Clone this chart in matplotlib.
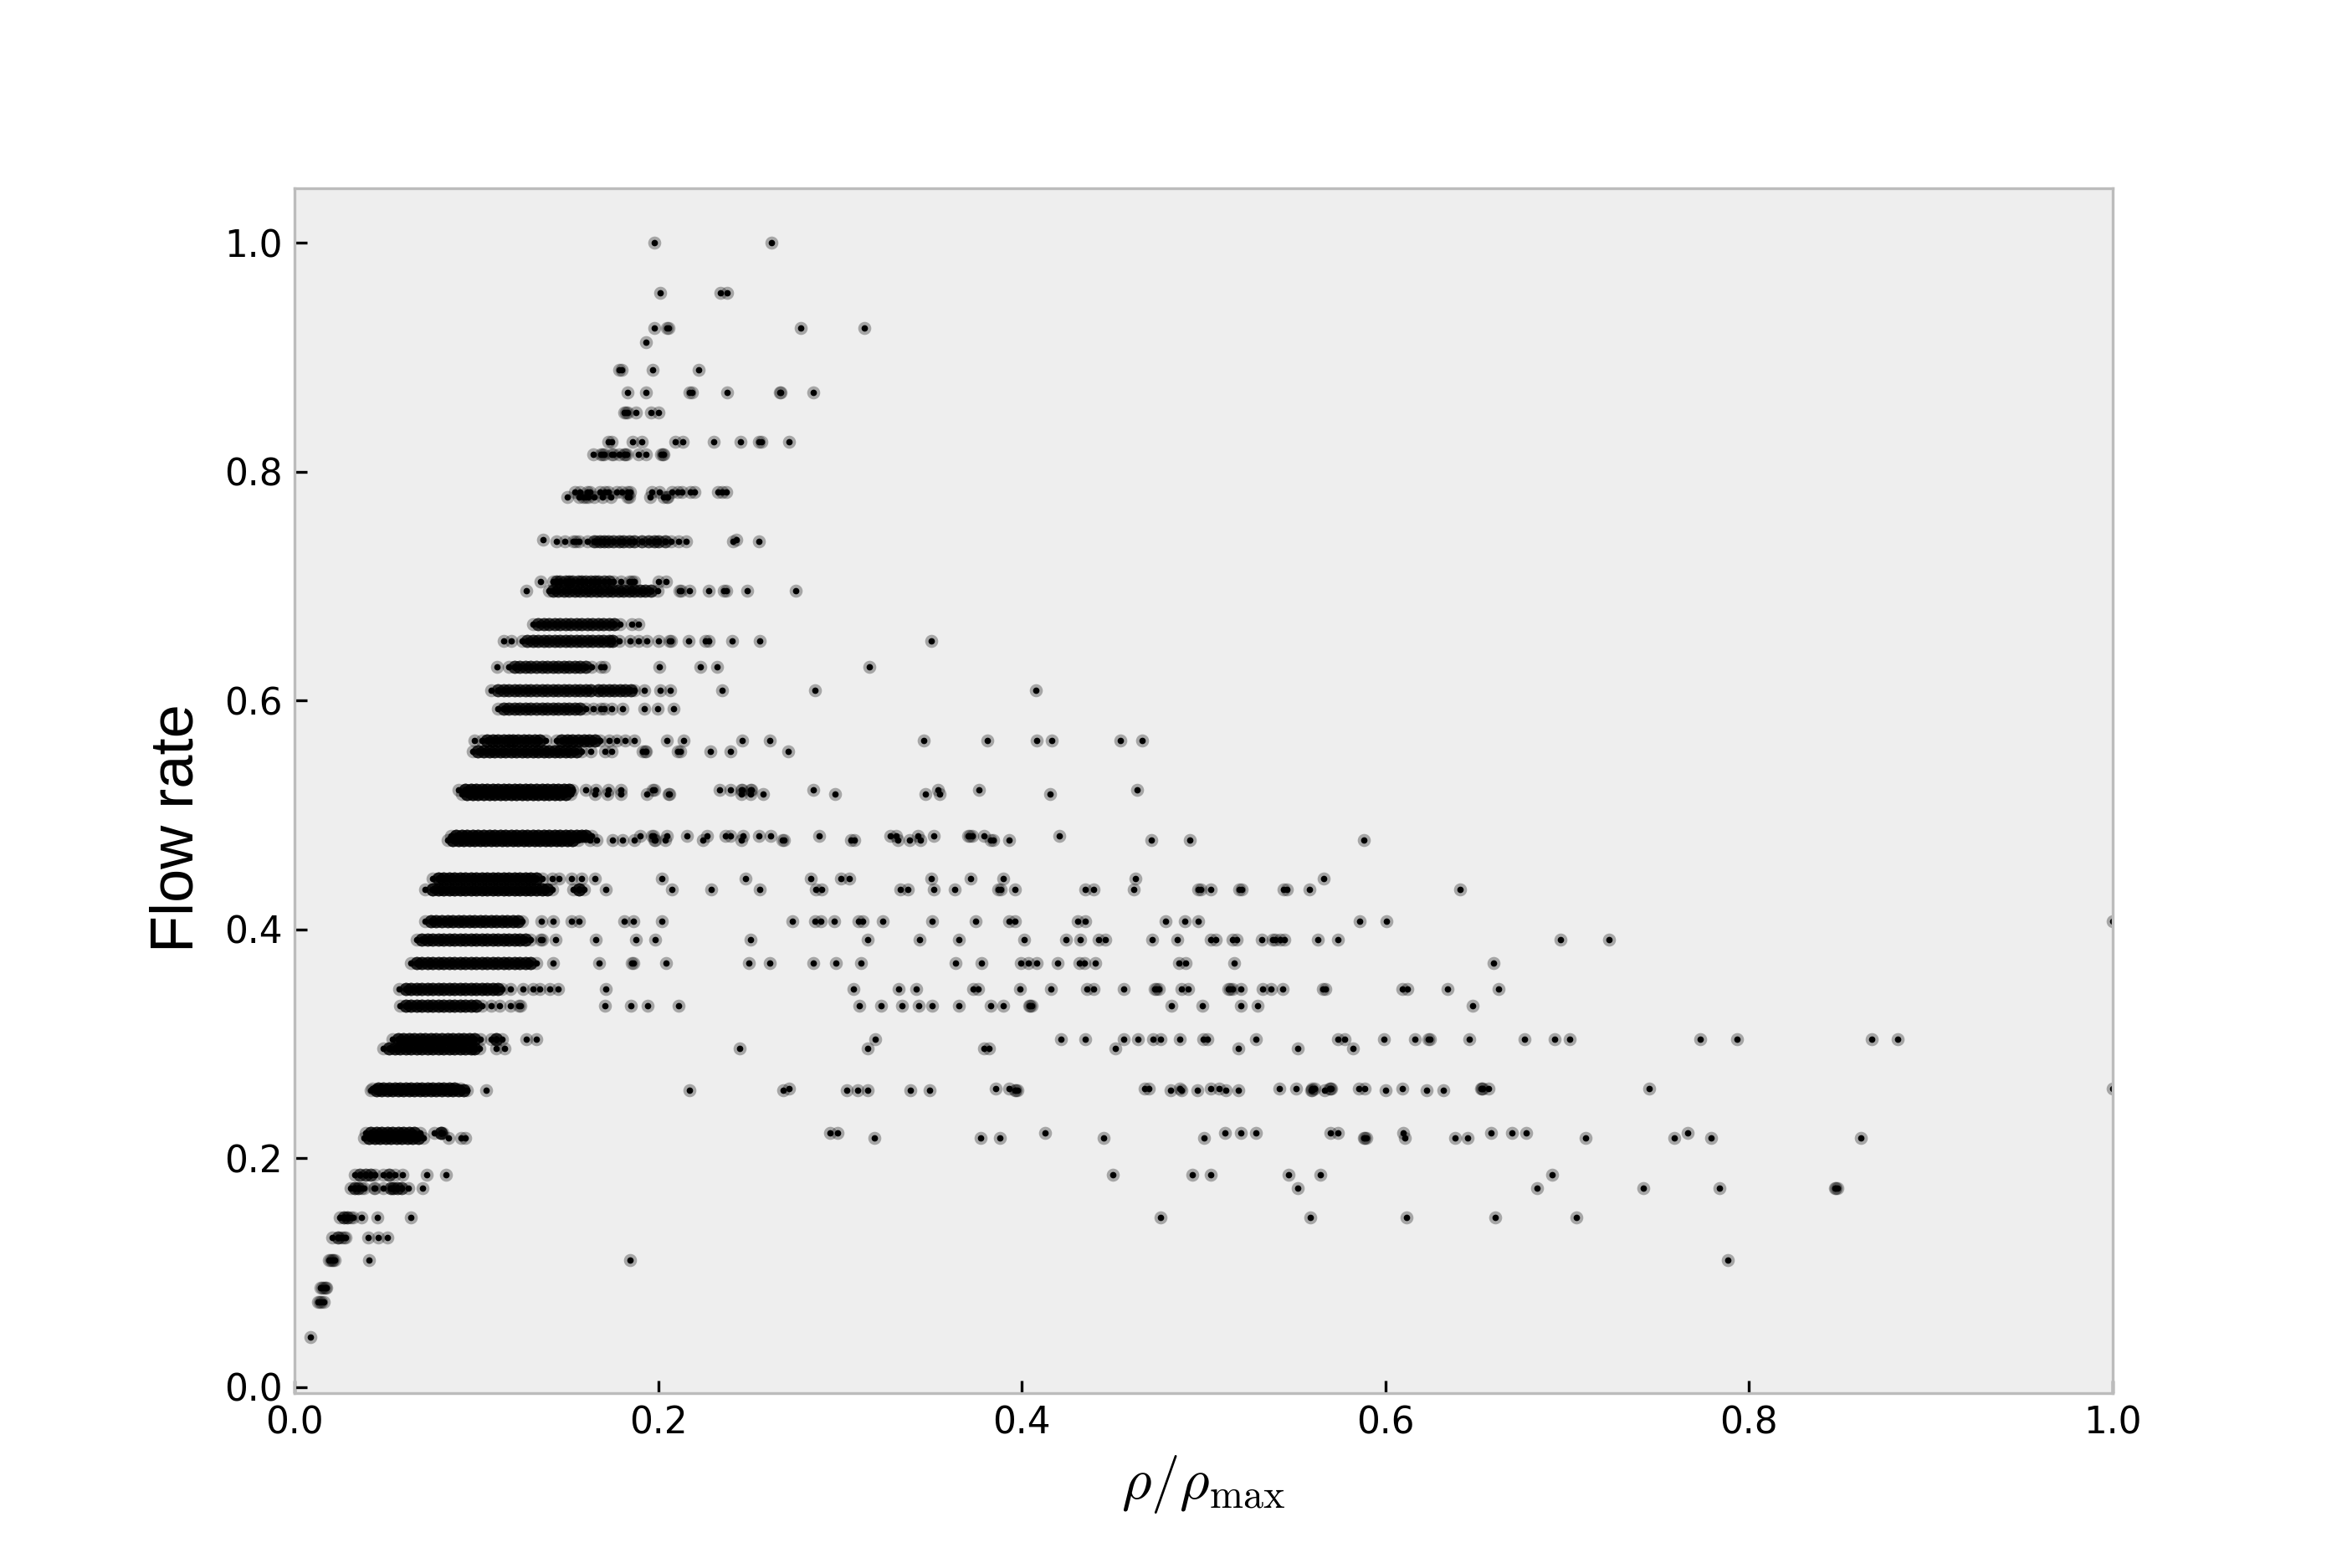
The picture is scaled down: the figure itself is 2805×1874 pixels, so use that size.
import matplotlib

matplotlib.use("Agg")
import matplotlib.pyplot as plt

# one list of rho/rho_max per flow-rate level
rho_1000 = [.1977, .2622]
rho_0957 = [.2009, .2341, .2378]
rho_0926 = [.1977, .2046, .2056, .2786, .3135]
rho_0913 = [.1933]
rho_0889 = [.1785, .1800, .1970, .2223]
rho_0870 = [.1832, .1933, .2170, .2184, .2379, .2669, .2675, .2852]
rho_0852 = [.1815, .1824, .1832, .1878, .1962, .2003]
rho_0826 = [.1728, .1744, .1859, .1908, .2092, .2134, .2307, .2454, .2552, .2568, .2718]
rho_0815 = [.1643, .1685, .1693, .1701, .1742, .1752, .1785, .1812, .1819, .1827, .1893, .1931,
            .2015, .2023, .2031]
rho_0783 = [.1540, .1571, .1609, .1624, .1678, .1709, .1724, .1770, .1801, .1832, .1847, .1967,
            .2008, .2077, .2108, .2131, .2177, .2200, .2330, .2353, .2376]
rho_0778 = [.1499, .1563, .1586, .1601, .1617, .1647, .1693, .1739, .1832, .1839, .1957, .2031,
            .2046, .2054]
rho_0741 = [.1368, .2430]
rho_0739 = [.1440, .1486, .1532, .1548, .1563, .1609, .1647, .1663, .1678, .1701, .1724, .1755,
            .1785, .1808, .1839, .1870, .1908, .1947, .1977, .2000, .2039, .2069, .2111, .2154,
            .2411, .2552]
rho_0704 = [.1351, .142, .144, .146, .149, .151, .153, .156, .158, .160, .163, .165, .167, .1701,
            .1732, .1755, .1796, .1839, .1854, .1870, .2000, .2043]
rho_0696 = [.1275, .140, .142, .145, .148, .151, .154, .157, .160, .163, .166, .169, .172, .175,
            .178, .181, .184, .187, .190, .193, .196, .1996, .2115, .2125, .2172, .2276, .2361,
            .2376, .2491, .2755]
rho_0667 = [.131, .134, .137, .140, .143, .146, .149, .152, .155, .158, .161, .164, .167, .170,
            .173, .176, .179, .1854, .1893]
rho_0652 = [.1149, .1192, .125, .128, .131, .134, .137, .140, .143, .146, .149, .152, .155, .158,
            .161, .164, .167, .170, .173, .175, .1785, .1847, .1893, .1939, .2003, .2062, .2071,
            .2166, .2261, .2276, .2407, .2560, .3501]
rho_0630 = [.1115, .118, .121, .124, .127, .130, .133, .136, .139, .142, .145, .148, .151, .154,
            .157, .1601, .1632, .1686, .1701, .2005, .2233, .2322, .3161]
rho_0609 = [.1083, .112, .115, .118, .121, .124, .127, .130, .133, .136, .139, .142, .145, .148,
            .151, .154, .157, .160, .163, .167, .170, .173, .176, .179, .182, .185, .187, .1924,
            .2011, .2066, .2353, .2862, .4078]
rho_0593 = [.112, .115, .118, .121, .124, .127, .130, .133, .136, .139, .142, .145, .148, .151,
            .154, .157, .160, .1643, .1686, .1701, .1743, .1804, .1924, .1997, .2085]
rho_0565 = [.0988, .103, .106, .109, .112, .115, .118, .120, .123, .126, .129, .132, .135, .138,
            .144, .147, .150, .153, .156, .159, .162, .165, .168, .1732, .1770, .1816, .1870,
            .2046, .2138, .2460, .2612, .3462, .3811, .4084, .4166, .4543, .4663]
rho_0556 = [.098, .101, .104, .107, .110, .113, .116, .119, .122, .125, .128, .131, .134, .137,
            .140, .143, .146, .149, .152, .155, .158, .1627, .1709, .1743, .1916, .1927, .1931,
            .2108, .2120, .2287, .2396, .2713]
rho_0522 = [.0903, .094, .097, .100, .103, .106, .109, .112, .115, .118, .121, .124, .127, .130,
            .133, .136, .139, .142, .145, .148, .151, .153, .1601, .1655, .1724, .1793, .1970,
            .1978, .2336, .2398, .2457, .2463, .2507, .2513, .2852, .3540, .3765, .4636]
rho_0519 = [.092, .095, .098, .101, .104, .107, .110, .113, .116, .119, .122, .125, .128, .131,
            .134, .137, .140, .143, .146, .149, .152, .1650, .1721, .1793, .1939, .2057, .2062,
            .2459, .2507, .2577, .2975, .3468, .3547, .4154]
rho_0481 = [.086, .089, .092, .095, .098, .101, .104, .107, .110, .113, .116, .119, .122, .125,
            .128, .131, .134, .137, .140, .143, .146, .149, .152, .155, .158, .160, .1632, .1900,
            .1966, .1972, .2046, .2157, .2269, .2371, .2398, .2468, .2556, .2618, .2885, .3278,
            .3309, .3427, .3515, .3705, .3713, .3726, .3793, .4205]
rho_0478 = [.084, .087, .090, .093, .096, .099, .102, .105, .108, .111, .114, .117, .120, .123,
            .126, .129, .132, .135, .138, .141, .144, .147, .150, .153, .156, .1625, .1663, .1747,
            .1804, .1870, .1977, .1985, .2039, .2246, .2459, .2683, .2693, .3058, .3079, .3318,
            .3383, .3440, .3829, .3841, .3932, .4714, .4925, .5883]
rho_0444 = [.076, .079, .082, .085, .088, .091, .094, .097, .100, .103, .106, .109, .112, .115,
            .118, .121, .124, .127, .130, .133, .136, .1418, .1456, .1525, .1579, .1651, .2021,
            .2480, .2841, .3005, .3049, .3501, .3718, .3897, .4624, .5659]
rho_0435 = [.0720, .076, .079, .082, .085, .088, .091, .094, .097, .100, .103, .106, .109, .112,
            .115, .118, .121, .124, .127, .130, .133, .136, .139, .1418, .1533, .1563, .1591,
            .1714, .2077, .2292, .2560, .2869, .2899, .3330, .3373, .3515, .3633, .3870, .3882,
            .3964, .4351, .4395, .4615, .4970, .4982, .5038, .5197, .5209, .5439, .5460, .5580,
            .6412]
rho_0407 = [.072, .075, .078, .081, .084, .087, .090, .093, .096, .099, .102, .105, .108, .111,
            .114, .117, .120, .123, .125, .1359, .1421, .1525, .1563, .1813, .1863, .2021, .2736,
            .2861, .2894, .2970, .3102, .3123, .3234, .3506, .3744, .3932, .3964, .4309, .4351,
            .4791, .4897, .4972, .5858, .6006, 1.0]
rho_0391 = [.067, .070, .073, .076, .079, .082, .085, .088, .091, .094, .097, .100, .103, .106,
            .109, .112, .115, .118, .121, .124, .127, .130, .1353, .1362, .1438, .1657, .1876,
            .1985, .2507, .3154, .3436, .3656, .4013, .4242, .4320, .4422, .4460, .4716, .4853,
            .5038, .5066, .5157, .5180, .5319, .5380, .5392, .5421, .5443, .5629, .5738, .6961,
            .7229]
rho_0370 = [.064, .067, .070, .073, .076, .079, .082, .085, .088, .091, .094, .097, .100, .103,
            .106, .109, .112, .115, .118, .121, .124, .127, .130, .133, .1421, .1675, .1855,
            .1865, .2044, .2498, .2612, .2852, .2977, .3116, .3635, .3779, .3994, .4038, .4080,
            .4195, .4316, .4346, .4406, .4865, .4902, .5170, .6595]
rho_0348 = [.0574, .061, .064, .067, .070, .073, .076, .079, .082, .085, .088, .091, .094, .097,
            .100, .103, .106, .109, .112, .114, .1188, .1257, .1310, .1349, .1402, .1451, .1714,
            .3072, .3322, .3420, .3732, .3762, .3992, .4158, .4360, .4395, .4562, .4732, .4741,
            .4756, .4879, .4914, .5134, .5146, .5157, .5205, .5325, .5369, .5437, .5658, .5670,
            .6094, .6122, .6340, .6622]
rho_0333 = [.058, .061, .064, .067, .070, .073, .076, .079, .082, .085, .088, .091, .094, .097,
            .100, .103, .1080, .1126, .1185, .1235, .1243, .1709, .1852, .1942, .2111, .3107,
            .3225, .3339, .3431, .3506, .3652, .3827, .3897, .4040, .4047, .4054, .4825, .4995,
            .5205, .5298, .6481]
rho_0304 = [.054, .057, .060, .063, .066, .069, .072, .075, .078, .081, .084, .087, .090, .093,
            .096, .099, .102, .1080, .1110, .1142, .1275, .1329, .3195, .4214, .4351, .4562,
            .4638, .4721, .4765, .4869, .4999, .5020, .5289, .5738, .5777, .5993, .6161, .6234,
            .6246, .6460, .6766, .6930, .7014, .7731, .7933, .8674, .8819]
rho_0296 = [.049, .052, .055, .058, .061, .064, .067, .070, .073, .076, .079, .082, .085, .088,
            .091, .094, .097, .099, .1019, .1111, .1157, .2450, .3151, .3793, .3820, .4513, .5189,
            .5518, .5821]
rho_0261 = [.043, .046, .049, .052, .055, .058, .061, .064, .067, .070, .073, .076, .079, .082,
            .085, .088, .091, .2718, .3858, .3932, .4677, .4700, .4867, .5038, .5087, .5418, .5509,
            .5598, .5608, .5692, .5698, .5704, .5853, .5888, .6094, .6524, .6530, .6536, .6565,
            .7449, 1.0]
rho_0259 = [.042, .045, .048, .051, .054, .057, .060, .063, .066, .069, .072, .075, .078, .081,
            .084, .087, .090, .093, .095, .1053, .2174, .2688, .3038, .3096, .3154, .3387, .3492,
            .3962, .3968, .3974, .4818, .4876, .4964, .5122, .5189, .5590, .5598, .5664, .6002,
            .6227, .6319]
rho_0222 = [.039, .042, .045, .048, .051, .054, .057, .060, .063, .066, .069, .0768, .0806, .0816,
            .2947, .2985, .4126, .5117, .5203, .5289, .5698, .5738, .6099, .6583, .6694, .6773,
            .7660]
rho_0217 = [.038, .041, .044, .047, .050, .053, .056, .059, .062, .065, .068, .071, .0849, .0915,
            .0938, .3190, .3774, .3880, .4452, .5002, .5882, .5888, .5894, .6108, .6384, .6451,
            .7099, .7588, .7789, .8616]
rho_0185 = [.033, .036, .039, .042, .044, .049, .052, .055, .0593, .0727, .0834, .4499, .4936,
            .5038, .5465, .5641, .6917]
rho_0174 = [.031, .033, .035, .037, .0382, .0435, .0443, .0489, .0527, .0542, .0566, .0588, .0627,
            .0704, .5518, .6833, .7417, .7838, .8470, .8478, .8486]
rho_0148 = [.025, .027, .029, .031, .032, .0366, .0454, .0638, .4763, .5585, .6117, .6602, .7048]
rho_0130 = [.0205, .024, .026, .027, .028, .0405, .0461, .0512]
rho_0111 = [.019, .0198, .0205, .0213, .022, .0409, .1846, .7884]
rho_0087 = [.0144, .0152, .0160, .0168, .0174]
rho_0074 = [.0128, .0136, .0145, .0159]
rho_0043 = [.0087]

flow_levels = [1.0, .9565, .9259, .9130, .8889, .8696, .8519, .8261, .8148, .7826, .7778, .7407,
               .7391, .7037, .6957, .6667, .6522, .6296, .6087, .5926, .5652, .5556, .5217, .5185,
               .4815, .4783, .4444, .4348, .4074, .3913, .3704, .3478, .3333, .3043, .2963, .2609,
               .2593, .2222, .2174, .1852, .1739, .1481, .1304, .1111, .0870, .0741, .0435]
rho_rows = [rho_1000, rho_0957, rho_0926, rho_0913, rho_0889, rho_0870, rho_0852, rho_0826, rho_0815,
            rho_0783, rho_0778, rho_0741, rho_0739, rho_0704, rho_0696, rho_0667, rho_0652, rho_0630,
            rho_0609, rho_0593, rho_0565, rho_0556, rho_0522, rho_0519, rho_0481, rho_0478, rho_0444,
            rho_0435, rho_0407, rho_0391, rho_0370, rho_0348, rho_0333, rho_0304, rho_0296, rho_0261,
            rho_0259, rho_0222, rho_0217, rho_0185, rho_0174, rho_0148, rho_0130, rho_0111, rho_0087,
            rho_0074, rho_0043]
# how many points sit on top of each other inside the dense runs of a level (estimated)
overplot = [1, 1, 1, 1, 1, 1, 1, 1, 1,
            1, 1, 1, 3, 3, 4, 4, 4, 4,
            4, 4, 5, 5, 6, 6, 6, 6, 6,
            6, 5, 5, 5, 5, 5, 5, 5, 5,
            5, 5, 5, 3, 3, 3, 3, 3, 3,
            3, 1]

tick_values = [0.0, 0.2, 0.4, 0.6, 0.8, 1.0]

plt.rcParams["mathtext.fontset"] = "cm"

fig = plt.figure(figsize=(9.35, 1874 / 300), dpi=300)
ax = fig.add_axes([352 / 2805, 1 - 1665 / 1874, 2173 / 2805, 1440 / 1874])
ax.set_facecolor("#eeeeee")

rho = []
flow = []
for level, row, count in zip(flow_levels, rho_rows, overplot):
    for i, value in enumerate(row):
        # only the wedge on the left is solid, stragglers further right stay single
        inside_run = (
            value < 0.25
            and 0 < i < len(row) - 1
            and value - row[i - 1] < 0.0041
            and row[i + 1] - value < 0.0041
            and row[i + 1] - row[i - 1] >= 0.0035
        )
        repeats = count if inside_run else 1
        rho.extend([value] * repeats)
        flow.extend([level] * repeats)

ax.scatter(rho, flow, s=3.4, facecolor="black", edgecolor=(0, 0, 0, 0.3), linewidths=1.9)

ax.set_xlim(0, 1)
ax.set_ylim(-0.0053, 1.0477)
ax.set_xticks(tick_values)
ax.set_yticks(tick_values)
ax.tick_params(axis="both", direction="in", length=3.5, width=0.8, color="black", labelsize=10.5, pad=3.5)
for spine in ax.spines.values():
    spine.set_color("#bcbcbc")
    spine.set_linewidth(0.8)

ax.set_xlabel(r"$\rho/\rho_{\max}$", fontsize=16.5)
ax.xaxis.set_label_coords(0.5, -0.05)
ax.set_ylabel("Flow rate", fontsize=17.3, family="Liberation Sans", va="center")
ax.yaxis.set_label_coords(-0.0642, 0.469)

fig.savefig("out.png", dpi=300)
